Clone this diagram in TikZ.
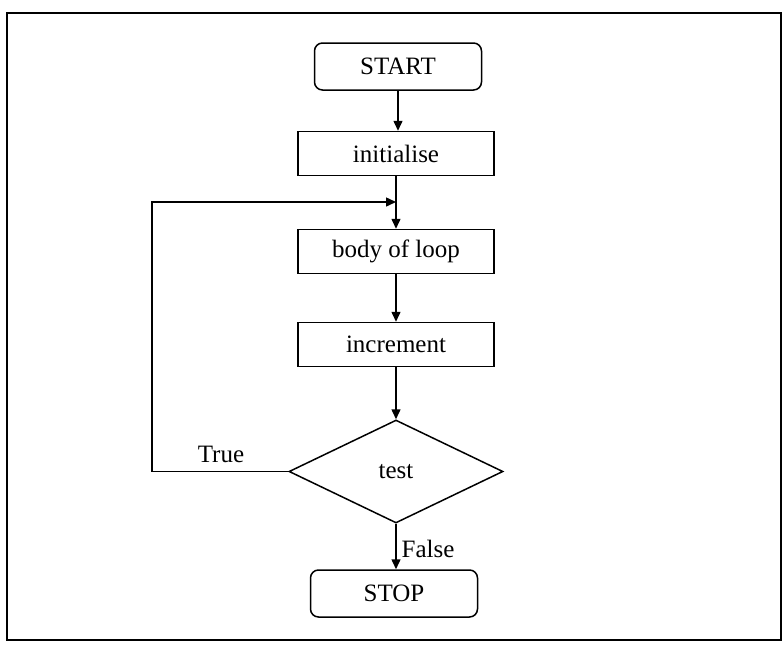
\documentclass[tikz,border=0pt]{standalone}
\usepackage{fontspec}
\setmainfont{Liberation Serif}
\usetikzlibrary{shapes.geometric,arrows.meta}
\begin{document}
\begin{tikzpicture}[x=0.5pt,y=-0.5pt,
  line width=0.75pt,
  every node/.style={font=\fontsize{12.5}{15}\selectfont},
  terminal/.style={draw,rounded corners=4pt,minimum width=83.5pt,minimum height=23.5pt,inner sep=0pt},
  process/.style={draw,minimum width=98pt,minimum height=22pt,inner sep=0pt},
  decision/.style={draw,diamond,minimum width=107pt,minimum height=51.5pt,inner sep=0pt},
  flow/.style={-{Triangle[length=5pt,width=4.5pt]}},
  lbl/.style={inner sep=1pt}]
  \useasboundingbox (0,0) rectangle (783,648);
  % outer frame
  \draw (7,13) rectangle (781,640);

  % flowchart blocks
  \node[terminal] (start) at (398,66.5) {START};
  \node[process]  (init)  at (396,153.5) {initialise};
  \node[process]  (body)  at (396,251.5) {body of loop};
  \node[process]  (incr)  at (396,344.5) {increment};
  \node[decision] (test)  at (396,471.5) {test};
  \node[terminal] (stop)  at (394,593.5) {STOP};

  % loop return points
  \coordinate (join)   at (396,202);
  \coordinate (corner) at (152,471.5);

  % connectors
  \draw[flow] (start.south) -- (start.south |- init.north);
  \draw[flow] (init.south) -- (body.north);
  \draw[flow] (body.south) -- (incr.north);
  \draw[flow] (incr.south) -- (test.north);
  \draw[flow] (test.south) -- (test.south |- stop.north);
  \draw[flow] (test.west) -- (corner) |- (join);

  % branch labels
  \node[lbl] (truelbl)  at (221,454) {True};
  \node[lbl] (falselbl) at (428,549) {False};
\end{tikzpicture}
\end{document}
